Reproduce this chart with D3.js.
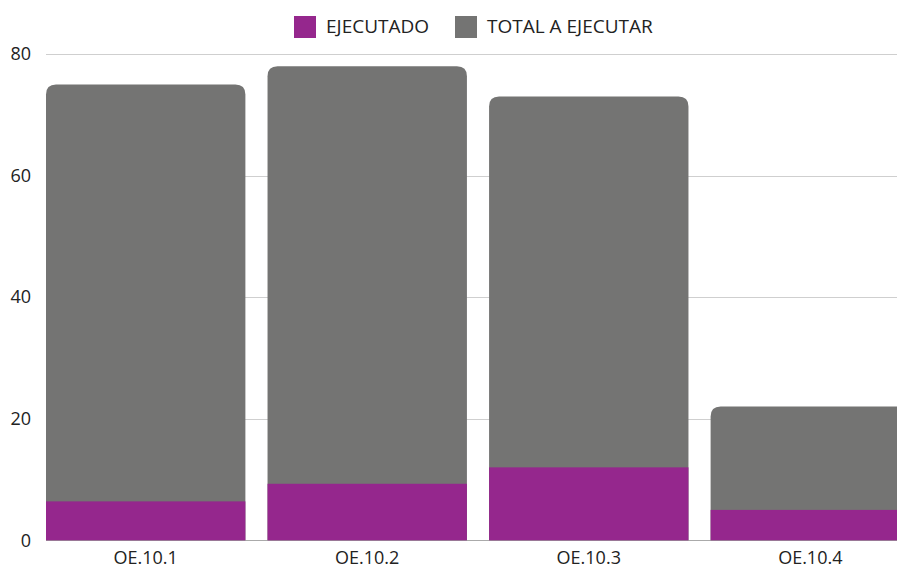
<!DOCTYPE html>
<head>
  <meta charset="utf-8">
  <script src="https://d3js.org/d3.v7.min.js"></script>
  <style>
    body { margin: 0; background: #fff; }
    text { font-family: "Open Sans", "Noto Sans", sans-serif; fill: #222; }
  </style>
</head>
<body>
  <script>
    var categories = ["OE.10.1", "OE.10.2", "OE.10.3", "OE.10.4"];
    var ejecutado = [6.4, 9.3, 12, 5];
    var totalAEjecutar = [75, 78, 73, 22];
    var yTicks = [0, 20, 40, 60, 80];
    var seriesNames = ["EJECUTADO", "TOTAL A EJECUTAR"];
    var colors = ["#95278d", "#747473"];

    var svg = d3.select("body").append("svg")
      .attr("width", 897)
      .attr("height", 566);

    var x = d3.scaleBand()
      .domain(categories)
      .range([46, 910])
      .paddingInner(0.1)
      .paddingOuter(0);

    var y = d3.scaleLinear()
      .domain([0, 80])
      .range([540.3, 54]);

    // gridlines
    svg.selectAll(".grid").data(yTicks).enter()
      .append("line")
      .attr("x1", 46)
      .attr("x2", 897)
      .attr("y1", function(d) { return Math.round(y(d)) + 0.5; })
      .attr("y2", function(d) { return Math.round(y(d)) + 0.5; })
      .attr("stroke", function(d) { return d === 0 ? "#aaa" : "#cfcfcf"; })
      .attr("stroke-width", 1);

    svg.selectAll(".ylab").data(yTicks).enter()
      .append("text")
      .attr("x", 31)
      .attr("y", function(d) { return y(d); })
      .attr("dy", "0.35em")
      .attr("text-anchor", "end")
      .style("font-size", "18px")
      .text(function(d) { return d; });

    // rounded-top bar path
    function topRounded(x0, y0, w, h, r) {
      r = Math.min(r, h, w / 2);
      return "M" + x0 + "," + (y0 + h) +
        "V" + (y0 + r) +
        "Q" + x0 + "," + y0 + " " + (x0 + r) + "," + y0 +
        "H" + (x0 + w - r) +
        "Q" + (x0 + w) + "," + y0 + " " + (x0 + w) + "," + (y0 + r) +
        "V" + (y0 + h) + "Z";
    }

    svg.selectAll(".total").data(categories).enter()
      .append("path")
      .attr("fill", colors[1])
      .attr("d", function(d, i) {
        var top = y(totalAEjecutar[i]);
        return topRounded(x(d), top, x.bandwidth(), y(0) - top, 10);
      });

    svg.selectAll(".ejec").data(categories).enter()
      .append("rect")
      .attr("fill", colors[0])
      .attr("x", function(d) { return x(d); })
      .attr("width", x.bandwidth())
      .attr("y", function(d, i) { return y(ejecutado[i]); })
      .attr("height", function(d, i) { return y(0) - y(ejecutado[i]); });

    svg.selectAll(".xlab").data(categories).enter()
      .append("text")
      .attr("x", function(d) { return x(d) + x.bandwidth() / 2; })
      .attr("y", 563.5)
      .attr("text-anchor", "middle")
      .style("font-size", "18px")
      .text(function(d) { return d; });

    // legend
    var legendX = [294, 455];
    var legend = svg.selectAll(".legend").data(seriesNames).enter()
      .append("g")
      .attr("transform", function(d, i) { return "translate(" + legendX[i] + ",16)"; });

    legend.append("rect")
      .attr("width", 22)
      .attr("height", 22)
      .attr("fill", function(d, i) { return colors[i]; });

    legend.append("text")
      .attr("x", 32)
      .attr("y", 16.7)
      .style("font-size", "19px")
      .text(function(d) { return d; });
  </script>
</body>
